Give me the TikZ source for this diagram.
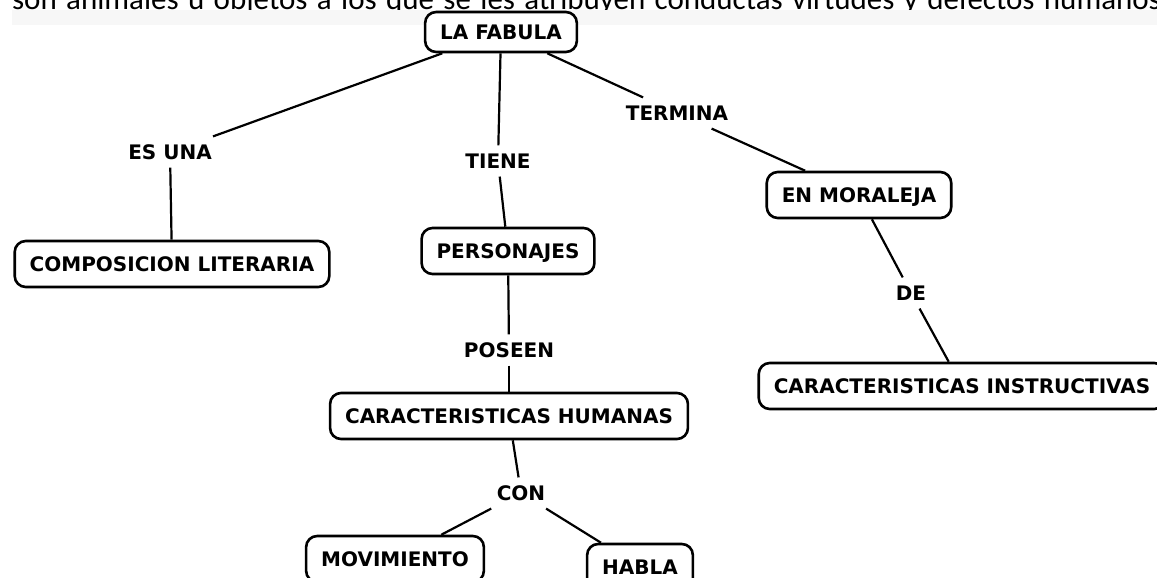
\documentclass[tikz,border=0pt]{standalone}
\usepackage{fontspec}
\setmainfont{Carlito}
\newfontfamily\mapfont{DejaVu Sans}

\begin{document}
\begin{tikzpicture}[x=1pt, y=-1pt, line width=2.2pt,
  concept/.style={draw, fill=white, rounded corners=11pt, line width=2.6pt, inner xsep=15pt, inner ysep=0pt, minimum height=46pt, text height=15pt, text depth=0pt, font=\mapfont\bfseries\fontsize{20}{24}\selectfont},
  link/.style={inner sep=7pt, text height=15pt, text depth=0pt, font=\mapfont\bfseries\fontsize{20}{24}\selectfont}]

\useasboundingbox (0,0) rectangle (1157,578);
\clip (0,0) rectangle (1157,578);

% caption line, only its lower edge shows
\begin{scope}
\clip (0,0) rectangle (1157,10);
\node[anchor=base west, inner sep=0pt, font=\fontsize{31}{36}\selectfont](caption) at (11,10)
  {\makebox[1149pt][s]{son animales u objetos a los que se les atribuyen conductas virtudes y defectos humanos}};
\end{scope}
\fill[black!3] (12,10) rectangle (1157,25);

% concepts
\node[concept, minimum height=40pt](fabula) at (501,32){LA FABULA};
\node[concept](composicion) at (172,264){COMPOSICION LITERARIA};
\node[concept](personajes) at (508,251){PERSONAJES};
\node[concept](humanas) at (509,416){CARACTERISTICAS HUMANAS};
\node[concept](moraleja) at (859,195){EN MORALEJA};
\node[concept](instructivas) at (962,386){CARACTERISTICAS INSTRUCTIVAS};
\node[concept](movimiento) at (395,559){MOVIMIENTO};
\node[concept](habla) at (640,567){HABLA};

% linking words
\node[link](esuna) at (170,152){ES UNA};
\node[link](tiene) at (498,161){TIENE};
\node[link](termina) at (677,113){TERMINA};
\node[link](poseen) at (509,350){POSEEN};
\node[link](de) at (911,293){DE};
\node[link](con) at (521,493){CON};

\foreach \a/\b in {fabula/esuna, esuna/composicion, fabula/tiene, tiene/personajes,
  fabula/termina, termina/moraleja, moraleja/de, de/instructivas,
  personajes/poseen, poseen/humanas, humanas/con, con/movimiento, con/habla}{
\draw (\a) -- (\b);
}
\end{tikzpicture}
\end{document}
